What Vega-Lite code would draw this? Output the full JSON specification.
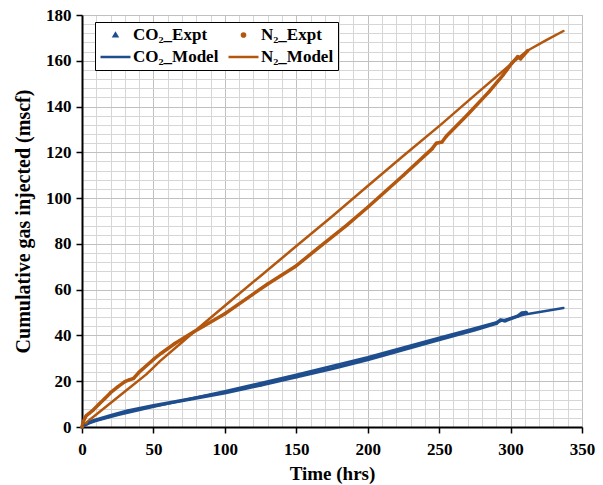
{
  "$schema": "https://vega.github.io/schema/vega-lite/v6.json",
  "autosize": "none",
  "width": 500,
  "height": 412,
  "padding": {"left": 82, "top": 15, "right": 21, "bottom": 58},
  "background": "white",
  "config": {
    "font": "Liberation Serif",
    "view": {"stroke": "#b0b0b0", "strokeWidth": 1},
    "axis": {
      "labelFont": "Liberation Serif", "labelFontSize": 17, "labelFontWeight": "bold", "labelColor": "black",
      "titleFont": "Liberation Serif", "titleFontSize": 19, "titleFontWeight": "bold", "titleColor": "black",
      "domainColor": "black", "domainWidth": 2, "tickSize": 6, "tickWidth": 1.5, "gridWidth": 1
    }
  },
  "datasets": {
    "pts": [
      {"series": "CO₂_Model", "kind": "Model", "t": 0, "v": 0},
      {"series": "CO₂_Model", "kind": "Model", "t": 5, "v": 1.6},
      {"series": "CO₂_Model", "kind": "Model", "t": 10, "v": 2.7},
      {"series": "CO₂_Model", "kind": "Model", "t": 25, "v": 5.2},
      {"series": "CO₂_Model", "kind": "Model", "t": 50, "v": 8.8},
      {"series": "CO₂_Model", "kind": "Model", "t": 75, "v": 12.2},
      {"series": "CO₂_Model", "kind": "Model", "t": 100, "v": 15.6},
      {"series": "CO₂_Model", "kind": "Model", "t": 150, "v": 22.8},
      {"series": "CO₂_Model", "kind": "Model", "t": 200, "v": 30.5},
      {"series": "CO₂_Model", "kind": "Model", "t": 250, "v": 39},
      {"series": "CO₂_Model", "kind": "Model", "t": 275, "v": 43.2},
      {"series": "CO₂_Model", "kind": "Model", "t": 300, "v": 47.5},
      {"series": "CO₂_Model", "kind": "Model", "t": 311, "v": 49.3},
      {"series": "CO₂_Model", "kind": "Model", "t": 337, "v": 52},
      {"series": "CO₂_Expt", "kind": "Expt", "t": 0, "v": 0},
      {"series": "CO₂_Expt", "kind": "Expt", "t": 2, "v": 1},
      {"series": "CO₂_Expt", "kind": "Expt", "t": 5, "v": 2.2},
      {"series": "CO₂_Expt", "kind": "Expt", "t": 10, "v": 3.1},
      {"series": "CO₂_Expt", "kind": "Expt", "t": 20, "v": 4.9},
      {"series": "CO₂_Expt", "kind": "Expt", "t": 32, "v": 7},
      {"series": "CO₂_Expt", "kind": "Expt", "t": 50, "v": 9.3},
      {"series": "CO₂_Expt", "kind": "Expt", "t": 75, "v": 12.1},
      {"series": "CO₂_Expt", "kind": "Expt", "t": 100, "v": 15},
      {"series": "CO₂_Expt", "kind": "Expt", "t": 125, "v": 18.3},
      {"series": "CO₂_Expt", "kind": "Expt", "t": 150, "v": 21.9},
      {"series": "CO₂_Expt", "kind": "Expt", "t": 175, "v": 25.5},
      {"series": "CO₂_Expt", "kind": "Expt", "t": 200, "v": 29.5},
      {"series": "CO₂_Expt", "kind": "Expt", "t": 225, "v": 33.8},
      {"series": "CO₂_Expt", "kind": "Expt", "t": 250, "v": 38.2},
      {"series": "CO₂_Expt", "kind": "Expt", "t": 275, "v": 42.5},
      {"series": "CO₂_Expt", "kind": "Expt", "t": 290, "v": 45.3},
      {"series": "CO₂_Expt", "kind": "Expt", "t": 293, "v": 46.8},
      {"series": "CO₂_Expt", "kind": "Expt", "t": 296, "v": 46.4},
      {"series": "CO₂_Expt", "kind": "Expt", "t": 305, "v": 48.4},
      {"series": "CO₂_Expt", "kind": "Expt", "t": 308, "v": 49.8},
      {"series": "CO₂_Expt", "kind": "Expt", "t": 311, "v": 50},
      {"series": "N₂_Model", "kind": "Model", "t": 0, "v": 0},
      {"series": "N₂_Model", "kind": "Model", "t": 5, "v": 3},
      {"series": "N₂_Model", "kind": "Model", "t": 10, "v": 5.5},
      {"series": "N₂_Model", "kind": "Model", "t": 20, "v": 10.5},
      {"series": "N₂_Model", "kind": "Model", "t": 32, "v": 16.5},
      {"series": "N₂_Model", "kind": "Model", "t": 45, "v": 23},
      {"series": "N₂_Model", "kind": "Model", "t": 55, "v": 29},
      {"series": "N₂_Model", "kind": "Model", "t": 70, "v": 37},
      {"series": "N₂_Model", "kind": "Model", "t": 83, "v": 44},
      {"series": "N₂_Model", "kind": "Model", "t": 100, "v": 53},
      {"series": "N₂_Model", "kind": "Model", "t": 125, "v": 66},
      {"series": "N₂_Model", "kind": "Model", "t": 149, "v": 78.5},
      {"series": "N₂_Model", "kind": "Model", "t": 175, "v": 92},
      {"series": "N₂_Model", "kind": "Model", "t": 200, "v": 105.3},
      {"series": "N₂_Model", "kind": "Model", "t": 225, "v": 118.5},
      {"series": "N₂_Model", "kind": "Model", "t": 251, "v": 132},
      {"series": "N₂_Model", "kind": "Model", "t": 275, "v": 145},
      {"series": "N₂_Model", "kind": "Model", "t": 301, "v": 159},
      {"series": "N₂_Model", "kind": "Model", "t": 312, "v": 164.5},
      {"series": "N₂_Model", "kind": "Model", "t": 325, "v": 169},
      {"series": "N₂_Model", "kind": "Model", "t": 337, "v": 173},
      {"series": "N₂_Expt", "kind": "Expt", "t": 0, "v": 0},
      {"series": "N₂_Expt", "kind": "Expt", "t": 1, "v": 2.5},
      {"series": "N₂_Expt", "kind": "Expt", "t": 3, "v": 5},
      {"series": "N₂_Expt", "kind": "Expt", "t": 5, "v": 6},
      {"series": "N₂_Expt", "kind": "Expt", "t": 8, "v": 7.5},
      {"series": "N₂_Expt", "kind": "Expt", "t": 12, "v": 10},
      {"series": "N₂_Expt", "kind": "Expt", "t": 16, "v": 12.5},
      {"series": "N₂_Expt", "kind": "Expt", "t": 20, "v": 15},
      {"series": "N₂_Expt", "kind": "Expt", "t": 25, "v": 17.5},
      {"series": "N₂_Expt", "kind": "Expt", "t": 30, "v": 19.8},
      {"series": "N₂_Expt", "kind": "Expt", "t": 33, "v": 20.6},
      {"series": "N₂_Expt", "kind": "Expt", "t": 36, "v": 21.2},
      {"series": "N₂_Expt", "kind": "Expt", "t": 40, "v": 24},
      {"series": "N₂_Expt", "kind": "Expt", "t": 50, "v": 29.5},
      {"series": "N₂_Expt", "kind": "Expt", "t": 55, "v": 32},
      {"series": "N₂_Expt", "kind": "Expt", "t": 65, "v": 36.5},
      {"series": "N₂_Expt", "kind": "Expt", "t": 78, "v": 41.5},
      {"series": "N₂_Expt", "kind": "Expt", "t": 85, "v": 44},
      {"series": "N₂_Expt", "kind": "Expt", "t": 100, "v": 49.5},
      {"series": "N₂_Expt", "kind": "Expt", "t": 115, "v": 56},
      {"series": "N₂_Expt", "kind": "Expt", "t": 130, "v": 62.5},
      {"series": "N₂_Expt", "kind": "Expt", "t": 149, "v": 70},
      {"series": "N₂_Expt", "kind": "Expt", "t": 165, "v": 78},
      {"series": "N₂_Expt", "kind": "Expt", "t": 185, "v": 88},
      {"series": "N₂_Expt", "kind": "Expt", "t": 200, "v": 96},
      {"series": "N₂_Expt", "kind": "Expt", "t": 225, "v": 110},
      {"series": "N₂_Expt", "kind": "Expt", "t": 245, "v": 121.5},
      {"series": "N₂_Expt", "kind": "Expt", "t": 248, "v": 124},
      {"series": "N₂_Expt", "kind": "Expt", "t": 252, "v": 124.5},
      {"series": "N₂_Expt", "kind": "Expt", "t": 255, "v": 127},
      {"series": "N₂_Expt", "kind": "Expt", "t": 270, "v": 136.5},
      {"series": "N₂_Expt", "kind": "Expt", "t": 285, "v": 146.5},
      {"series": "N₂_Expt", "kind": "Expt", "t": 295, "v": 154},
      {"series": "N₂_Expt", "kind": "Expt", "t": 301, "v": 159},
      {"series": "N₂_Expt", "kind": "Expt", "t": 305, "v": 161.8},
      {"series": "N₂_Expt", "kind": "Expt", "t": 307, "v": 160.8},
      {"series": "N₂_Expt", "kind": "Expt", "t": 312, "v": 164.4}
    ]
  },
  "data": {"name": "pts"},
  "encoding": {
    "x": {
      "field": "t", "type": "quantitative",
      "scale": {"domain": [0, 350], "nice": false},
      "axis": {
        "title": "Time (hrs)",
        "values": [0,10,20,30,40,50,60,70,80,90,100,110,120,130,140,150,160,170,180,190,200,210,220,230,240,250,260,270,280,290,300,310,320,330,340,350],
        "labelExpr": "datum.value % 50 === 0 ? datum.label : ''",
        "tickColor": {"condition": {"test": "datum.value % 50 !== 0", "value": "transparent"}, "value": "black"},
        "gridColor": {"condition": {"test": "datum.value % 50 === 0", "value": "#c0c0c0"}, "value": "#d6d6d6"},
        "labelPadding": 8,
        "titlePadding": 7,
        "labelFlush": false
      }
    },
    "y": {
      "field": "v", "type": "quantitative",
      "scale": {"domain": [0, 180], "nice": false},
      "axis": {
        "title": "Cumulative gas injected  (mscf)",
        "titleFontSize": 20,
        "values": [0,4,8,12,16,20,24,28,32,36,40,44,48,52,56,60,64,68,72,76,80,84,88,92,96,100,104,108,112,116,120,124,128,132,136,140,144,148,152,156,160,164,168,172,176,180],
        "labelExpr": "datum.value % 20 === 0 ? datum.label : ''",
        "tickColor": {"condition": {"test": "datum.value % 20 !== 0", "value": "transparent"}, "value": "black"},
        "gridColor": {"condition": {"test": "datum.value % 20 === 0", "value": "#c0c0c0"}, "value": "#d6d6d6"},
        "labelPadding": 5,
        "titlePadding": 12,
        "labelFlush": false
      }
    }
  },
  "layer": [
    {
      "transform": [{"filter": "datum.kind === 'Expt'"}],
      "mark": {"type": "line", "strokeWidth": 3.5, "strokeJoin": "round", "strokeCap": "round"},
      "encoding": {
        "color": {"field": "series", "type": "nominal",
          "scale": {"domain": ["CO₂_Expt", "CO₂_Model", "N₂_Expt", "N₂_Model"], "range": ["#1F4E8F", "#1F4E8F", "#B3570F", "#B3570F"]}}
      }
    },
    {
      "transform": [{"filter": "datum.kind === 'Model'"}],
      "mark": {"type": "line", "strokeWidth": 2.5, "strokeJoin": "round", "strokeCap": "round"},
      "encoding": {
        "color": {"field": "series", "type": "nominal",
          "scale": {"domain": ["CO₂_Expt", "CO₂_Model", "N₂_Expt", "N₂_Model"], "range": ["#1F4E8F", "#1F4E8F", "#B3570F", "#B3570F"]}}
      }
    },
    {
      "transform": [{"filter": "datum.kind === 'Expt'"}],
      "mark": {"type": "point", "filled": true, "opacity": 1},
      "encoding": {
        "color": {"field": "series", "type": "nominal",
          "scale": {"domain": ["CO₂_Expt", "CO₂_Model", "N₂_Expt", "N₂_Model"], "range": ["#1F4E8F", "#1F4E8F", "#B3570F", "#B3570F"]},
          "legend": {
            "title": null, "orient": "none", "legendX": 13, "legendY": 7, "columns": 2,
            "strokeColor": "black", "fillColor": "white", "padding": 4,
            "labelFont": "Liberation Serif", "labelFontSize": 17, "labelFontWeight": "bold", "labelColor": "black",
            "clipHeight": 18, "labelOffset": 1, "columnPadding": 8, "rowPadding": 4, "symbolStrokeWidth": 2.5,
            "encode": {"symbols": {"update": {
              "stroke": {"scale": "color", "field": "value"}
            }}}
          }
        },
        "shape": {"field": "series", "type": "nominal",
          "scale": {"domain": ["CO₂_Expt", "CO₂_Model", "N₂_Expt", "N₂_Model"], "range": ["triangle-up", "stroke", "circle", "stroke"]}
        },
        "size": {"field": "series", "type": "nominal",
          "scale": {"type": "ordinal", "domain": ["CO₂_Expt", "CO₂_Model", "N₂_Expt", "N₂_Model"], "range": [10, 900, 10, 900]}
        }
      }
    }
  ]
}
